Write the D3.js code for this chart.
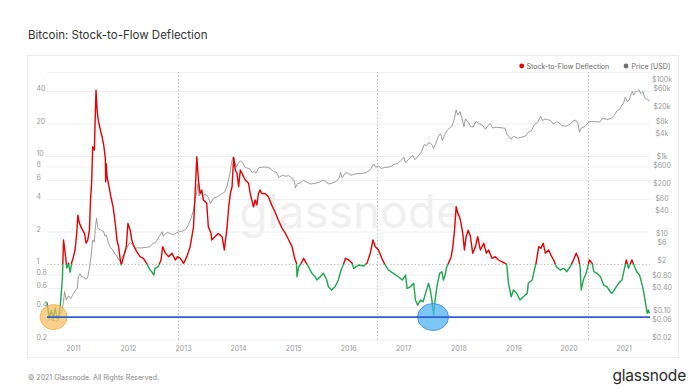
<!DOCTYPE html>
<html><head><meta charset="utf-8">
<script src="https://cdn.jsdelivr.net/npm/d3@7"></script>
<style>
body{margin:0;background:#fff;}
svg{display:block;font-family:Inter,"Noto Sans",sans-serif;}
</style></head><body>
<svg id="c" width="690" height="392"></svg>
<script>
const chartTitle = "Bitcoin: Stock-to-Flow Deflection";
const footerText = "© 2021 Glassnode. All Rights Reserved.";
const seriesNames = ["Stock-to-Flow Deflection", "Price [USD]"];
const yearTicks = [2011,2012,2013,2014,2015,2016,2017,2018,2019,2020,2021];
const leftTicks = [0.2,0.4,0.6,0.8,1,2,4,6,8,10,20,40];
const rightTicks = [0.02,0.06,0.1,0.4,0.8,2,6,10,40,80,200,600,1000,4000,8000,20000,60000,100000];
const rightTickLabels = ["$0.02","$0.06","$0.10","$0.40","$0.80","$2","$6","$10","$40","$80","$200","$600","$1k","$4k","$8k","$20k","$60k","$100k"];
const halvingYears = [2012.91, 2016.52, 2020.36];
const supportLevel = 0.323;
const markedYears = [2010.65, 2017.54];

const s2fYears = [2010.53,2010.57,2010.61,2010.64,2010.68,2010.71,2010.75,2010.78,2010.81,2010.83,2010.86,2010.89,2010.92,2010.95,2010.98,
2011.01,2011.04,2011.07,2011.09,2011.12,2011.16,2011.21,2011.24,2011.27,2011.30,2011.32,2011.34,2011.36,2011.39,2011.42,2011.44,2011.46,2011.50,2011.53,2011.56,2011.59,2011.595,2011.605,2011.62,2011.65,2011.69,2011.73,2011.77,2011.80,2011.83,2011.86,2011.88,2011.92,2011.97,
2012.00,2012.04,2012.07,2012.10,2012.16,2012.22,2012.28,2012.34,2012.39,2012.43,2012.47,2012.49,2012.55,2012.60,2012.63,2012.68,2012.74,2012.80,2012.86,2012.90,2012.95,
2013.01,2013.07,2013.13,2013.19,2013.22,2013.25,2013.28,2013.31,2013.34,2013.37,2013.43,2013.46,2013.51,2013.52,2013.58,2013.64,2013.71,2013.75,2013.80,2013.83,2013.86,2013.89,2013.92,2013.95,2013.98,
2014.01,2014.04,2014.07,2014.13,2014.19,2014.22,2014.28,2014.31,2014.34,2014.37,2014.40,2014.43,2014.49,2014.55,2014.61,2014.67,2014.73,2014.80,2014.86,2014.92,2014.98,
2015.02,2015.06,2015.07,2015.10,2015.13,2015.19,2015.24,2015.28,2015.34,2015.40,2015.43,2015.49,2015.55,2015.61,2015.64,2015.70,2015.76,2015.82,2015.87,2015.91,2015.95,
2016.01,2016.07,2016.10,2016.19,2016.28,2016.34,2016.40,2016.45,2016.49,2016.55,2016.61,2016.67,2016.73,2016.82,2016.91,2016.98,
2017.04,2017.07,2017.13,2017.19,2017.22,2017.26,2017.31,2017.36,2017.42,2017.46,2017.49,2017.52,2017.55,2017.57,2017.61,2017.66,2017.70,2017.73,2017.76,2017.79,2017.82,2017.87,2017.90,2017.93,2017.96,2017.99,
2018.02,2018.05,2018.08,2018.11,2018.14,2018.18,2018.22,2018.26,2018.31,2018.35,2018.40,2018.46,2018.51,2018.55,2018.61,2018.67,2018.73,2018.79,2018.85,2018.88,2018.91,2018.96,
2019.00,2019.06,2019.12,2019.18,2019.25,2019.27,2019.34,2019.38,2019.41,2019.46,2019.50,2019.54,2019.58,2019.64,2019.68,2019.73,2019.78,2019.85,2019.91,2019.97,
2020.03,2020.09,2020.14,2020.18,2020.21,2020.23,2020.27,2020.32,2020.35,2020.38,2020.43,2020.46,2020.52,2020.58,2020.64,2020.70,2020.76,2020.79,2020.85,2020.91,2020.97,
2021.01,2021.05,2021.09,2021.15,2021.20,2021.24,2021.29,2021.33,2021.36,2021.39,2021.43,2021.45,2021.47];
const s2fValues = [0.445,0.316,0.375,0.31,0.39,0.316,0.337,0.464,0.742,1.67,1.26,0.918,1.02,0.84,1.04,
1.17,1.35,1.92,2.84,2.38,2.14,1.92,1.56,1.67,2.06,3.91,5.6,12.2,11.4,40.8,26.7,21.5,17.4,15.1,12.6,9.52,5.78,8.5,6.43,5.39,4.2,3.39,2.38,1.67,1.45,1.09,0.98,1.17,1.45,
2.38,2.06,1.67,1.5,1.3,1.17,1.13,1.015,0.9,0.85,0.79,0.91,0.944,1.09,1.45,1.26,1.17,1.26,1.09,1.17,1.13,
1.015,1.17,1.45,2.2,4.5,9.85,6.0,4.5,4.84,3.91,3.65,2.2,1.92,1.67,1.79,1.92,1.79,1.35,2.2,3.39,4.5,5.2,9.72,7.42,6.92,
5.2,7.42,6.92,6.0,5.59,4.5,3.39,3.91,3.52,4.5,4.84,4.5,4.5,4.2,3.52,3.05,2.56,2.14,1.92,1.67,1.45,
1.17,1.015,0.763,0.944,0.98,1.13,1.015,0.944,0.82,0.763,0.711,0.763,0.82,0.711,0.616,0.574,0.616,0.711,0.88,0.98,1.13,
1.09,1.015,0.912,0.98,0.96,1.015,1.26,1.67,1.45,1.35,1.13,0.98,0.88,0.82,0.763,0.711,
0.791,0.596,0.616,0.663,0.464,0.417,0.464,0.448,0.574,0.663,0.574,0.464,0.337,0.433,0.616,0.82,0.849,0.711,0.791,0.944,1.015,1.17,1.45,2.06,3.39,2.95,
2.74,2.38,1.92,1.35,1.79,2.06,1.79,1.26,1.45,1.79,1.35,1.56,1.26,1.35,1.13,1.17,1.09,1.05,1.015,0.98,0.663,0.498,
0.574,0.535,0.464,0.498,0.535,0.663,0.711,0.88,1.015,1.45,1.40,1.56,1.26,1.35,1.21,1.09,0.944,0.88,0.912,0.849,
0.944,1.09,1.26,1.13,0.944,0.574,0.711,0.82,0.944,1.09,1.015,0.849,0.82,0.763,0.639,0.616,0.554,0.535,0.596,0.663,0.711,
0.88,1.09,0.912,1.09,0.944,0.849,0.791,0.663,0.574,0.464,0.35,0.375,0.35];

const priceYears = [2010.53,2010.58,2010.62,2010.68,2010.73,2010.77,2010.80,2010.83,2010.85,2010.88,2010.92,2010.96,
2011.00,2011.05,2011.08,2011.10,2011.13,2011.16,2011.20,2011.24,2011.27,2011.30,2011.33,2011.36,2011.39,2011.41,2011.43,2011.45,2011.48,2011.52,2011.56,2011.58,2011.61,2011.64,2011.68,2011.72,2011.76,2011.80,2011.84,2011.87,2011.90,2011.94,2011.97,
2012.02,2012.05,2012.09,2012.13,2012.17,2012.22,2012.27,2012.33,2012.40,2012.45,2012.50,2012.54,2012.58,2012.62,2012.64,2012.67,2012.72,2012.78,2012.83,2012.89,2012.95,
2013.00,2013.05,2013.10,2013.15,2013.19,2013.22,2013.25,2013.27,2013.29,2013.32,2013.36,2013.42,2013.46,2013.50,2013.55,2013.62,2013.70,2013.76,2013.80,2013.85,2013.88,2013.91,2013.94,2013.97,
2014.00,2014.04,2014.08,2014.13,2014.17,2014.21,2014.26,2014.29,2014.32,2014.38,2014.45,2014.52,2014.58,2014.64,2014.70,2014.74,2014.80,2014.86,2014.92,2014.98,
2015.02,2015.04,2015.08,2015.13,2015.19,2015.25,2015.32,2015.40,2015.47,2015.54,2015.60,2015.64,2015.70,2015.78,2015.84,2015.86,2015.89,2015.95,
2016.00,2016.05,2016.10,2016.17,2016.25,2016.33,2016.40,2016.46,2016.50,2016.55,2016.60,2016.68,2016.76,2016.83,2016.90,2016.97,
2017.01,2017.04,2017.10,2017.17,2017.21,2017.27,2017.33,2017.38,2017.42,2017.46,2017.52,2017.55,2017.60,2017.65,2017.68,2017.71,2017.75,2017.80,2017.84,2017.88,2017.92,2017.96,2017.99,
2018.03,2018.07,2018.10,2018.13,2018.18,2018.22,2018.27,2018.32,2018.38,2018.44,2018.49,2018.54,2018.58,2018.62,2018.70,2018.78,2018.85,2018.88,2018.92,2018.96,
2019.00,2019.08,2019.15,2019.22,2019.27,2019.33,2019.38,2019.44,2019.49,2019.53,2019.57,2019.62,2019.67,2019.72,2019.80,2019.84,2019.88,2019.96,
2020.03,2020.09,2020.13,2020.17,2020.20,2020.23,2020.30,2020.36,2020.40,2020.50,2020.57,2020.62,2020.70,2020.78,2020.83,2020.88,2020.92,2020.96,
2021.00,2021.03,2021.07,2021.10,2021.14,2021.16,2021.18,2021.22,2021.25,2021.28,2021.31,2021.35,2021.38,2021.42,2021.46,2021.47];
const priceValues = [0.06,0.07,0.065,0.062,0.062,0.10,0.11,0.20,0.36,0.22,0.28,0.24,
0.30,0.40,0.43,0.90,1.05,0.88,0.85,0.75,0.86,1.5,3.0,8.0,7.0,18,29,17,15,14,13,10,10.5,7,5,4.5,3.5,3.0,2.3,2.5,3.0,3.5,4.5,
6.5,6.8,5.7,4.6,5.0,4.9,5.0,5.1,5.3,6.4,6.7,8.5,10.5,13,10,11,12.4,11.5,10.8,12.3,13.4,
13.5,15,20,30,47,90,140,230,110,130,115,120,100,70,95,105,125,140,200,400,800,1150,850,620,
780,900,820,600,580,560,440,480,430,600,620,620,580,480,450,330,380,360,370,320,
270,180,230,240,280,250,225,235,250,285,260,225,235,260,330,450,330,440,
430,380,400,420,420,450,530,750,620,660,575,610,630,730,770,960,
1120,800,1000,1250,960,1200,1550,2400,2200,2700,2400,1900,2800,4300,4500,3000,4300,5600,6400,7000,10000,19000,14000,
17000,11000,7000,11000,9000,7000,6800,9500,8300,7500,6000,7500,8300,6500,6700,6500,6300,4500,3800,3300,
3900,3500,3700,4000,5000,5500,8000,9000,13000,10000,11000,10500,10200,8200,9300,8500,7300,7200,
8100,9800,10300,8600,5000,6400,7000,9000,9500,9300,9200,11700,10700,11500,13600,18000,19200,23500,
29000,40000,31000,34000,50000,57000,46000,57000,58000,63000,50000,57000,40000,36000,33000,35000];

const W = 690, H = 392;
const plot = {l: 47, r: 650, t: 72, b: 340};
const svg = d3.select("#c");

const x = d3.scaleLinear().domain([2010.53, 2021.48]).range([plot.l, plot.r]);
const yL = d3.scaleLog().domain([0.198, 60]).range([plot.b, plot.t]);
const yR = d3.scaleLog().domain([0.02, 182800]).range([plot.b, plot.t]);

// title
svg.append("text").attr("x", 28).attr("y", 38.5).attr("font-size", 11.5).attr("fill", "#333")
  .attr("font-weight", 400).text(chartTitle);

// card
svg.append("rect").attr("x", 27.5).attr("y", 55.5).attr("width", 651).attr("height", 302)
  .attr("fill", "#fff").attr("stroke", "#ececec");

// watermark
svg.append("text").attr("x", 351).attr("y", 228).attr("text-anchor", "middle")
  .attr("font-size", 46).attr("fill", "#efefef").attr("font-weight", 400).text("glassnode");

// top line
svg.append("line").attr("x1", plot.l).attr("x2", plot.r).attr("y1", plot.t + 0.5).attr("y2", plot.t + 0.5)
  .attr("stroke", "#f0f0f0");

// left axis with gridlines
const gL = svg.append("g").attr("transform", `translate(${plot.l},0)`)
  .call(d3.axisLeft(yL).tickValues(leftTicks).tickFormat(d => String(d)).tickSize(-(plot.r - plot.l)));
gL.select(".domain").remove();
gL.selectAll(".tick line").attr("stroke", d => d === 1 ? "#c4c4c4" : "#f0f0f0")
  .attr("stroke-dasharray", d => d === 1 ? "1.5,2" : null);
gL.selectAll(".tick text").attr("x", -10.5).attr("dy", "-0.05em").attr("text-anchor", "start")
  .attr("fill", "#999").attr("font-size", 7).attr("font-family", "Inter,'Noto Sans',sans-serif");

// right axis
const gR = svg.append("g").attr("transform", `translate(${plot.r},0)`)
  .call(d3.axisRight(yR).tickValues(rightTicks).tickFormat((d, i) => rightTickLabels[i]).tickSize(0));
gR.select(".domain").remove();
gR.selectAll(".tick text").attr("x", 12).attr("dy", "-0.05em").attr("text-anchor", "middle")
  .attr("fill", "#999").attr("font-size", 7).attr("font-family", "Inter,'Noto Sans',sans-serif");

// bottom axis
const gB = svg.append("g").attr("transform", `translate(0,${plot.b})`)
  .call(d3.axisBottom(x).tickValues(yearTicks).tickFormat(d3.format("d")).tickSize(0).tickPadding(6));
gB.select(".domain").remove();
gB.selectAll(".tick text").attr("fill", "#999").attr("font-size", 7)
  .attr("font-family", "Inter,'Noto Sans',sans-serif");

// halving lines
svg.append("g").selectAll("line").data(halvingYears).join("line")
  .attr("x1", d => Math.round(x(d)) + 0.5).attr("x2", d => Math.round(x(d)) + 0.5)
  .attr("y1", plot.t).attr("y2", plot.b)
  .attr("stroke", "#b5b5b5").attr("stroke-width", 0.9).attr("stroke-dasharray", "1.5,2");

// clip paths
const defs = svg.append("defs");
defs.append("clipPath").attr("id", "above").append("rect")
  .attr("x", plot.l - 2).attr("y", plot.t - 20).attr("width", plot.r - plot.l + 4).attr("height", yL(1) - plot.t + 20);
defs.append("clipPath").attr("id", "below").append("rect")
  .attr("x", plot.l - 2).attr("y", yL(1)).attr("width", plot.r - plot.l + 4).attr("height", plot.b - yL(1) + 20);

// price line
const priceLine = d3.line().x((d, i) => x(priceYears[i])).y(d => yR(d));
svg.append("path").attr("d", priceLine(priceValues)).attr("fill", "none")
  .attr("stroke", "#858585").attr("stroke-width", 0.8).attr("stroke-linejoin", "round");

// deflection line
const s2fLine = d3.line().x((d, i) => x(s2fYears[i])).y(d => yL(d));
svg.append("path").attr("d", s2fLine(s2fValues)).attr("clip-path", "url(#above)")
  .attr("fill", "none").attr("stroke", "#e80000").attr("stroke-width", 1.4).attr("stroke-linejoin", "round");
svg.append("path").attr("d", s2fLine(s2fValues)).attr("clip-path", "url(#below)")
  .attr("fill", "none").attr("stroke", "#1ea64c").attr("stroke-width", 1.4).attr("stroke-linejoin", "round");

// annotations
svg.append("ellipse").attr("cx", x(markedYears[0])).attr("cy", yL(supportLevel)).attr("rx", 13.5).attr("ry", 12.5)
  .attr("fill", "#f7be5c").attr("fill-opacity", 0.7).attr("stroke", "#f2a93b").attr("stroke-opacity", 0.8);
svg.append("ellipse").attr("cx", x(markedYears[1])).attr("cy", yL(supportLevel)).attr("rx", 15.5).attr("ry", 13.5)
  .attr("fill", "#4fb3f2").attr("fill-opacity", 0.75).attr("stroke", "#3a8ad8").attr("stroke-opacity", 0.8);
svg.append("line").attr("x1", plot.l).attr("x2", plot.r).attr("y1", yL(supportLevel)).attr("y2", yL(supportLevel))
  .attr("stroke", "#2f5fd0").attr("stroke-width", 1.8);

// legend
const legend = svg.append("g").attr("font-size", 7).attr("fill", "#666");
legend.append("circle").attr("cx", 521.7).attr("cy", 66).attr("r", 2.4).attr("fill", "#e80000");
legend.append("text").attr("x", 526.5).attr("y", 68.5).text(seriesNames[0]);
legend.append("circle").attr("cx", 626).attr("cy", 66).attr("r", 2.4).attr("fill", "#707070");
legend.append("text").attr("x", 631.5).attr("y", 68.5).text(seriesNames[1]);

// footer
svg.append("text").attr("x", 28).attr("y", 379.5).attr("font-size", 7).attr("fill", "#888").text(footerText);
svg.append("text").attr("x", 686).attr("y", 381).attr("text-anchor", "end").attr("font-size", 15.5)
  .attr("fill", "#2a2a2a").attr("font-weight", 400).attr("letter-spacing", -0.2).text("glassnode");
</script>
</body></html>
